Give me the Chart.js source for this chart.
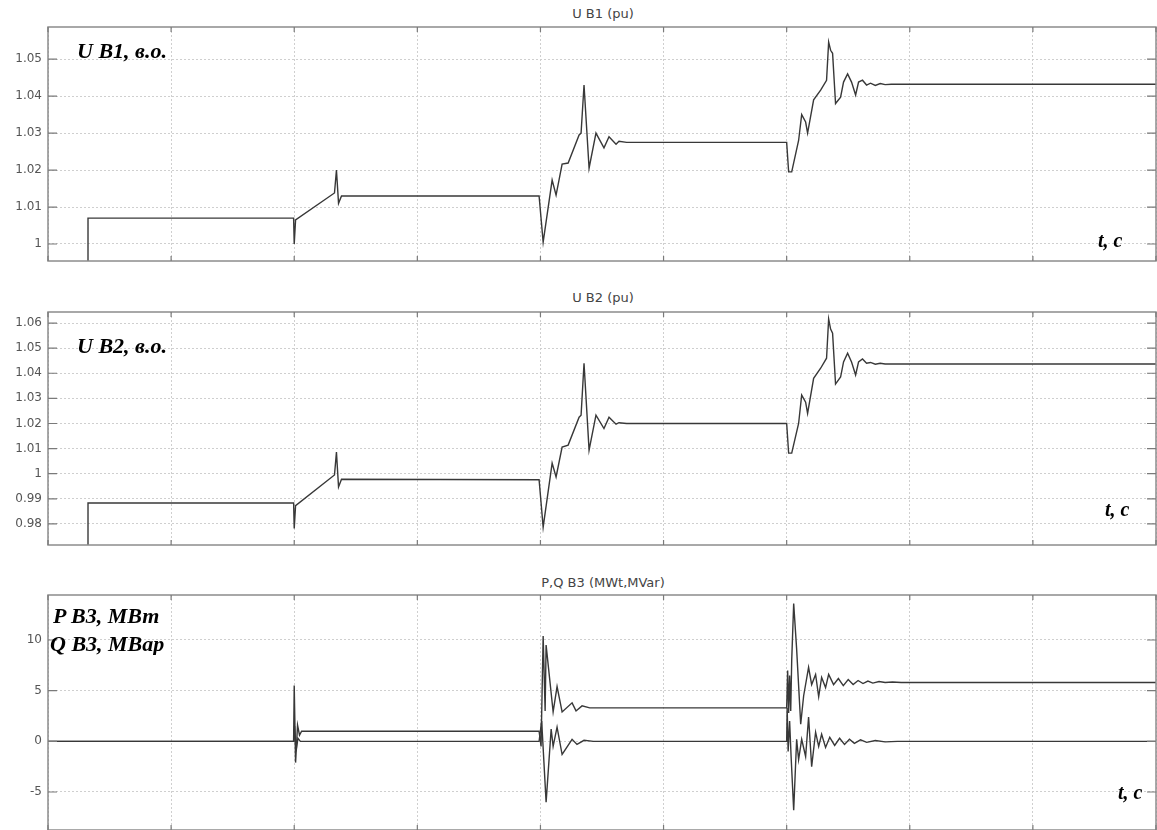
<!DOCTYPE html>
<html>
<head>
<meta charset="utf-8">
<script src="https://cdn.jsdelivr.net/npm/chart.js@4.4.1/dist/chart.umd.min.js"></script>
<style>
    body { margin: 0; width: 1157px; height: 830px; overflow: hidden; background: #fff; position: relative; }
    canvas { position: absolute; left: 0; }
    .titulo { position: absolute; left: 48px; width: 1110px; text-align: center; font: 13px 'DejaVu Sans', sans-serif; color: #444; }
    .nota { position: absolute; font: italic bold 22px 'Liberation Serif', serif; line-height: 1; color: #000; white-space: nowrap; }
</style>
</head>
<body>
<div class="titulo" style="top:6px">U B1 (pu)</div>
<div class="titulo" style="top:290px">U B2 (pu)</div>
<div class="titulo" style="top:575px">P,Q B3 (MWt,MVar)</div>

<canvas id="chartB1" width="1157" height="244" style="top:22px"></canvas>
<canvas id="chartB2" width="1157" height="243" style="top:307px"></canvas>
<canvas id="chartB3" width="1157" height="245" style="top:590px"></canvas>

<div class="nota" style="left:77px;top:40px">U B1, в.о.</div>
<div class="nota" style="left:1098px;top:230px;font-size:20px">t, с</div>
<div class="nota" style="left:77px;top:335px">U B2, в.о.</div>
<div class="nota" style="left:1105px;top:499px;font-size:20px">t, с</div>
<div class="nota" style="left:53px;top:605px;width:113px;overflow:hidden">P B3, МВт</div>
<div class="nota" style="left:50px;top:633px;width:116px;overflow:hidden">Q B3, МВар</div>
<div class="nota" style="left:1118px;top:782px;font-size:20px">t, с</div>

<script>
// tiempo (divisiones de la rejilla) y tensiones en barras B1, B2
var tU = [0, 0.324, 0.325, 1.995, 2.0, 2.011, 2.327, 2.343, 2.360, 2.384,
    3.989, 4.022, 4.095, 4.127, 4.176, 4.225, 4.314, 4.330, 4.354, 4.395,
    4.451, 4.516, 4.557, 4.614, 4.638, 4.70, 6.0, 6.016, 6.041, 6.097,
    6.122, 6.154, 6.170, 6.219, 6.276, 6.324, 6.341, 6.357, 6.373, 6.397,
    6.438, 6.462, 6.495, 6.527, 6.560, 6.584, 6.616, 6.649, 6.681, 6.72,
    6.76, 6.80, 6.85, 9.0];
var uB1 = [0, 0, 1.007, 1.007, 1.0, 1.0065, 1.0138, 1.020, 1.011, 1.013,
    1.013, 1.0005, 1.0173, 1.0132, 1.0216, 1.0219, 1.0295, 1.030, 1.043, 1.0205,
    1.030, 1.026, 1.029, 1.027, 1.0278, 1.0275, 1.0275, 1.0195, 1.0195, 1.028,
    1.035, 1.033, 1.030, 1.039, 1.0416, 1.0443, 1.0546, 1.0524, 1.0516, 1.038,
    1.0397, 1.0438, 1.046, 1.0438, 1.0403, 1.0438, 1.0443, 1.043, 1.0435, 1.0429,
    1.0434, 1.0431, 1.0432, 1.0432];
var uB2 = [0, 0, 0.9883, 0.9883, 0.9782, 0.9873, 0.9995, 1.0086, 0.9947, 0.9978,
    0.9976, 0.9787, 1.0042, 0.9987, 1.0106, 1.0114, 1.0225, 1.0233, 1.044, 1.0094,
    1.0233, 1.018, 1.0225, 1.0197, 1.0203, 1.020, 1.020, 1.0082, 1.0082, 1.020,
    1.0313, 1.0285, 1.024, 1.038, 1.042, 1.046, 1.0616, 1.0576, 1.056, 1.0357,
    1.0385, 1.0445, 1.048, 1.0445, 1.0393, 1.0445, 1.0457, 1.044, 1.0443, 1.0436,
    1.0440, 1.0437, 1.0437, 1.0437];

// potencia activa P en B3
var tP = [0, 1.995, 2.0, 2.011, 2.027, 2.043, 2.060,
    3.989, 4.005, 4.022, 4.038, 4.046, 4.103, 4.135, 4.176, 4.257, 4.289, 4.338, 4.40,
    6.0, 6.008, 6.016, 6.024, 6.033, 6.041, 6.057, 6.081, 6.114, 6.138,
    6.178, 6.203, 6.235, 6.260, 6.284, 6.316, 6.341, 6.381, 6.42, 6.46,
    6.50, 6.54, 6.58, 6.62, 6.66, 6.70, 6.75, 6.80, 6.86, 6.93,
    7.0, 7.15, 9.0];
var pB3 = [0, 0, 5.5, -2.1, 1.6, 0.6, 1.0,
    1.0, -0.5, 10.4, 3.0, 9.5, 2.9, 5.4, 2.9, 3.8, 3.0, 3.5, 3.3,
    3.3, 7.0, 2.8, 6.5, 3.0, 8.0, 13.6, 9.1, 1.7, 4.5,
    7.3, 5.6, 6.6, 4.4, 6.3, 5.3, 6.6, 5.6, 6.2, 5.5,
    6.1, 5.6, 6.0, 5.7, 5.95, 5.75, 5.9, 5.8, 5.85, 5.8,
    5.82, 5.8, 5.8];

// potencia reactiva Q en B3
var tQ = [0, 1.995, 2.003, 2.015, 2.03, 2.05,
    3.989, 4.010, 4.046, 4.087, 4.103, 4.135, 4.176, 4.257, 4.297, 4.354, 4.43,
    6.0, 6.004, 6.012, 6.024, 6.036, 6.057, 6.081, 6.097, 6.122, 6.154,
    6.178, 6.203, 6.235, 6.260, 6.284, 6.316, 6.35, 6.39, 6.43, 6.47,
    6.51, 6.55, 6.60, 6.65, 6.72, 6.80, 6.90, 9.0];
var qB3 = [0, 0, 1.5, -1.0, 0.3, 0,
    0, 2.0, -6.0, 1.2, -0.5, 1.4, -1.3, 0.2, -0.3, 0.1, 0.0,
    0, 3.3, -1.0, 2.0, -1.5, -6.8, 0.2, -1.8, 0.2, -1.5,
    2.4, -2.5, 0.9, -0.5, 0.7, -0.6, 0.4, -0.4, 0.3, -0.3,
    0.2, -0.2, 0.15, -0.1, 0.08, -0.05, 0, 0];

var ticksB1 = [1, 1.01, 1.02, 1.03, 1.04, 1.05];
var ticksB2 = [0.98, 0.99, 1, 1.01, 1.02, 1.03, 1.04, 1.05, 1.06];
var ticksB3 = [-5, 0, 5, 10];

// marco y marcas interiores estilo matlab
var marco = {
    id: 'marco',
    afterDraw: function (chart) {
        var a = chart.chartArea;
        var ctx = chart.ctx;
        ctx.save();
        ctx.strokeStyle = '#8c8c8c';
        ctx.lineWidth = 1.5;
        ctx.strokeRect(a.left, a.top, a.right - a.left, a.bottom - a.top);
        ctx.strokeStyle = '#7a7a7a';
        ctx.lineWidth = 1.2;
        ctx.beginPath();
        chart.scales.y.ticks.forEach(function (t) {
            var y = chart.scales.y.getPixelForValue(t.value);
            ctx.moveTo(a.left, y); ctx.lineTo(a.left + 9, y);
            ctx.moveTo(a.right - 9, y); ctx.lineTo(a.right, y);
        });
        chart.scales.x.ticks.forEach(function (t) {
            var x = chart.scales.x.getPixelForValue(t.value);
            ctx.moveTo(x, a.top); ctx.lineTo(x, a.top + 5);
            ctx.moveTo(x, a.bottom - 5); ctx.lineTo(x, a.bottom);
        });
        ctx.stroke();
        ctx.restore();
    }
};

function serie(t, v) {
    return t.map(function (x, i) { return { x: x, y: v[i] }; });
}

function sinPadding(s) {
    s.paddingTop = 0;
    s.paddingBottom = 0;
    s.paddingLeft = 0;
    s.paddingRight = 0;
}

function grafica(id, series, yMin, yMax, yTicks) {
    var datasets = series.map(function (s) {
        return {
            data: s,
            borderColor: '#383838',
            borderWidth: 1.4,
            pointRadius: 0,
            tension: 0
        };
    });
    return new Chart(document.getElementById(id), {
        type: 'line',
        data: { datasets: datasets },
        options: {
            responsive: false,
            animation: false,
            events: [],
            layout: { padding: { top: 5, bottom: 5, right: 1, left: 0 } },
            plugins: { legend: { display: false }, tooltip: { enabled: false } },
            scales: {
                x: {
                    type: 'linear', min: 0, max: 9,
                    ticks: { display: false, stepSize: 1 },
                    grid: { color: '#cfcfcf', lineWidth: 1, drawTicks: false },
                    border: { display: false, dash: [2, 2] },
                    afterFit: function (s) { s.height = 0; sinPadding(s); }
                },
                y: {
                    min: yMin, max: yMax,
                    afterBuildTicks: function (s) {
                        s.ticks = yTicks.map(function (v) { return { value: v }; });
                    },
                    afterFit: function (s) { s.width = 48; sinPadding(s); },
                    ticks: {
                        padding: 6,
                        color: '#555',
                        font: { family: 'DejaVu Sans', size: 12 },
                        callback: function (v) { return String(+v.toFixed(3)); }
                    },
                    grid: { color: '#cfcfcf', lineWidth: 1, drawTicks: false },
                    border: { display: false, dash: [2, 2] }
                }
            }
        },
        plugins: [marco]
    });
}

grafica('chartB1', [serie(tU, uB1)], 0.9954, 1.0587, ticksB1);
grafica('chartB2', [serie(tU, uB2)], 0.9716, 1.0644, ticksB2);
grafica('chartB3', [serie(tP, pB3), serie(tQ, qB3)], -8.75, 14.44, ticksB3);
</script>
</body>
</html>
